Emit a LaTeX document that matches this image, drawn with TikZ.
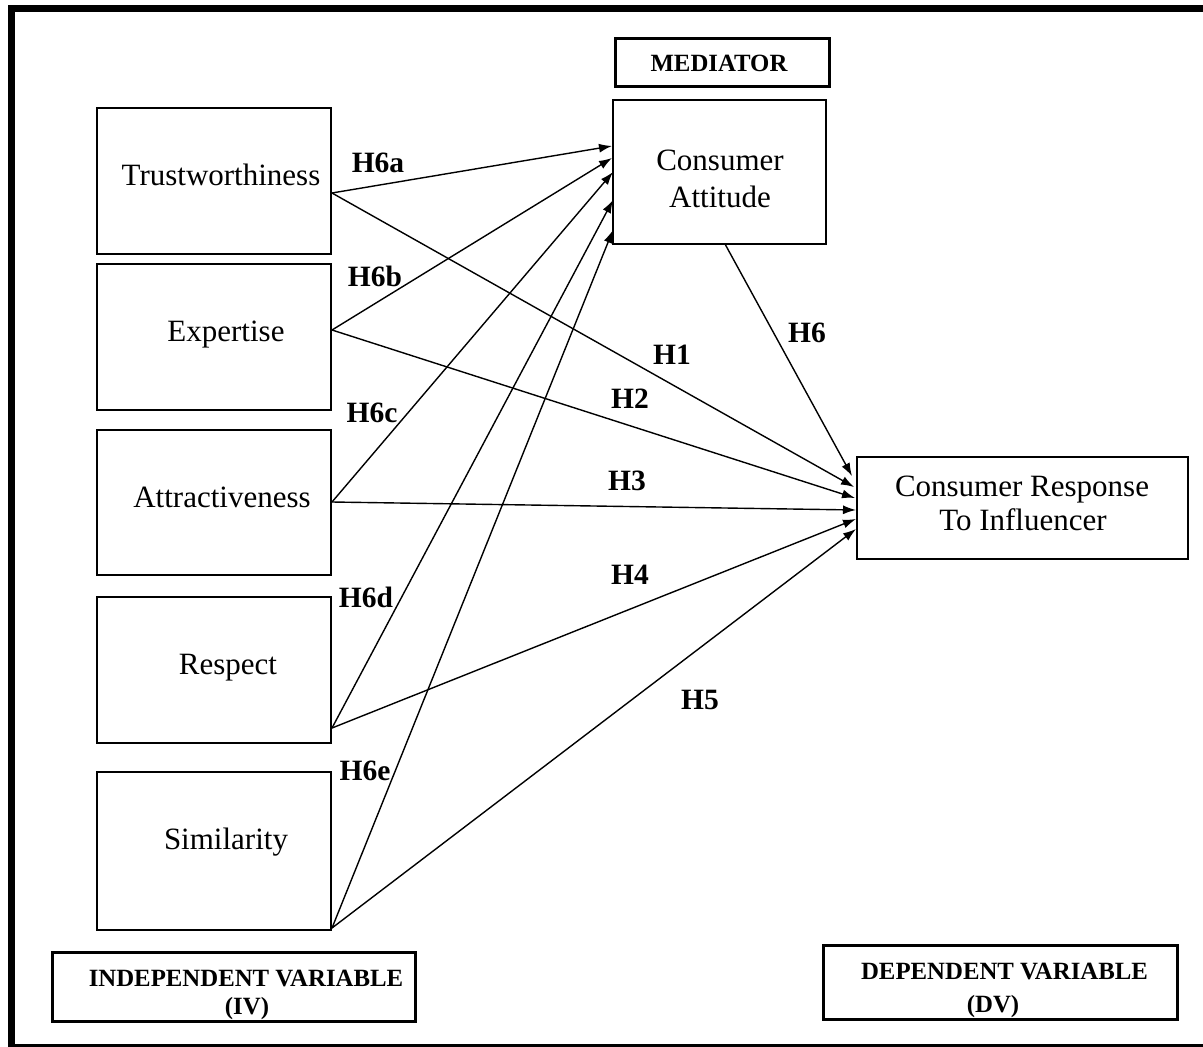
\documentclass[tikz,border=0pt]{standalone}
\usepackage{fontspec}
\setmainfont{Liberation Serif}
\usetikzlibrary{arrows.meta}
\begin{document}
\begin{tikzpicture}[x=1pt,y=-1pt,
  box/.style={draw, line width=1.3pt, inner sep=0pt},
  tagbox/.style={draw, line width=3pt, inner sep=0pt},
  txt/.style={font=\fontsize{31}{34}\selectfont, inner sep=0pt, anchor=base},
  tagtxt/.style={font=\fontsize{24.8}{28}\bfseries\selectfont, inner sep=0pt, anchor=base},
  hyp/.style={font=\fontsize{29.5}{30}\bfseries\selectfont, inner sep=0pt},
  arr/.style={line width=1.4pt, -{Latex[length=13pt,width=9pt]}}]
\path[use as bounding box] (0,0) rectangle (1203,1047);
\fill[white] (0,0) rectangle (1203,1047);
\draw[line width=7pt] (1215,8) -- (11,8) -- (11,1047) -- (1215,1047);

% independent variable boxes
\node[box, minimum width=234pt, minimum height=146pt] (trust) at (214,181) {};
\node[box, minimum width=234pt, minimum height=146pt] (expert) at (214,337) {};
\node[box, minimum width=234pt, minimum height=145pt] (attract) at (214,502.5) {};
\node[box, minimum width=234pt, minimum height=146pt] (respect) at (214,670) {};
\node[box, minimum width=234pt, minimum height=158pt] (simil) at (214,851) {};
\node[txt] (trustT) at (221,185) {Trustworthiness};
\node[txt] (expertT) at (226,341) {Expertise};
\node[txt] (attractT) at (222,507) {Attractiveness};
\node[txt] (respectT) at (228,674) {Respect};
\node[txt] (similT) at (226,849) {Similarity};

% mediator
\node[tagbox, minimum width=214pt, minimum height=48pt] (medbox) at (722,62) {};
\node[tagtxt] (medT) at (719,71) {MEDIATOR};
\node[box, minimum width=213pt, minimum height=144pt] (ca) at (719.5,172) {};
\node[txt] (caT1) at (720,170) {Consumer};
\node[txt] (caT2) at (720,207) {Attitude};

% dependent
\node[box, minimum width=331pt, minimum height=102pt] (cr) at (1022.5,508) {};
\node[txt] (crT1) at (1022,496) {Consumer Response};
\node[txt] (crT2) at (1023,530) {To Influencer};

% bottom tags
\node[tagbox, minimum width=363pt, minimum height=69pt] (ivbox) at (233.5,986.5) {};
\node[tagtxt] (ivT1) at (246,986) {INDEPENDENT VARIABLE};
\node[tagtxt] (ivT2) at (247,1014) {(IV)};
\node[tagbox, minimum width=354pt, minimum height=74pt] (dvbox) at (1000,982) {};
\node[tagtxt] (dvT1) at (1004.5,979) {DEPENDENT VARIABLE};
\node[tagtxt] (dvT2) at (993,1012) {(DV)};

% connector ends
\coordinate (oT) at (332,193);
\coordinate (oE) at (332,330);
\coordinate (oA) at (332,502);
\coordinate (oR) at (332,728);
\coordinate (oS) at (332,928);
\coordinate (oC) at (725,244);
\coordinate (ca1) at (612,146);
\coordinate (ca2) at (612,158);
\coordinate (ca3) at (613,172);
\coordinate (ca4) at (613,200);
\coordinate (ca5) at (613,230);
\coordinate (cr0) at (852,476);
\coordinate (cr1) at (854,487);
\coordinate (cr2) at (855,498);
\coordinate (cr3) at (856,510);
\coordinate (cr4) at (856,519);
\coordinate (cr5) at (856,529);

\draw[arr] (oT) -- (ca1);
\draw[arr] (oE) -- (ca2);
\draw[arr] (oA) -- (ca3);
\draw[arr] (oR) -- (ca4);
\draw[arr] (oS) -- (ca5);
\draw[arr] (oC) -- (cr0);
\draw[arr] (oT) -- (cr1);
\draw[arr] (oE) -- (cr2);
\draw[arr] (oA) -- (cr3);
\draw[arr] (oR) -- (cr4);
\draw[arr] (oS) -- (cr5);

% hypothesis labels
\node[hyp] (h6a) at (378,163) {H6a};
\node[hyp] (h6b) at (375,276) {H6b};
\node[hyp] (h6c) at (372,413) {H6c};
\node[hyp] (h6d) at (366,597) {H6d};
\node[hyp] (h6e) at (365,771) {H6e};
\node[hyp] (h1) at (672,355) {H1};
\node[hyp] (h2) at (630,399) {H2};
\node[hyp] (h3) at (627,481) {H3};
\node[hyp] (h4) at (630,575) {H4};
\node[hyp] (h5) at (700,700) {H5};
\node[hyp] (h6) at (807,333) {H6};
\end{tikzpicture}
\end{document}
